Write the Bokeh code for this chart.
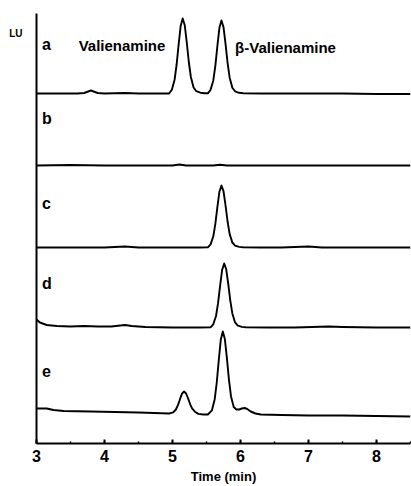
from bokeh.plotting import figure
from bokeh.models import Range1d, SingleIntervalTicker, FixedTicker, Label
from bokeh.embed import file_html
from bokeh.resources import INLINE

# ---- data (fluorescence signal, LU, stacked traces) ----
a_x = [3.0, 3.3, 3.6, 3.7, 3.8, 3.9, 4.0, 4.3, 4.5, 4.8, 4.95,
       4.99, 5.03, 5.06, 5.09, 5.12, 5.15, 5.18, 5.21, 5.24, 5.27, 5.31, 5.35, 5.41, 5.47,
       5.52, 5.56, 5.60, 5.63, 5.66, 5.69, 5.72, 5.75, 5.78, 5.81, 5.84, 5.88, 5.92, 5.98, 6.04,
       6.3, 6.6, 7.0, 7.5, 8.0, 8.5]
a_y = [350, 350, 350, 350.5, 353, 350.5, 350, 350.5, 350, 350, 350,
       353.8, 363.5, 378.5, 398.8, 417.5, 425, 418.3, 401, 381.5, 366.5, 356, 352.3, 350.8, 350.2,
       350.2, 353.7, 363.1, 377.7, 397.5, 415.7, 423, 416.4, 399.6, 380.7, 366.1, 355.8, 352.2, 350.7, 350.2,
       350, 350, 350, 350, 349.5, 349.5]

b_x = [3.0, 3.5, 4.0, 4.5, 5.0, 5.1, 5.2, 5.6, 5.7, 5.8, 6.0, 7.0, 8.0, 8.5]
b_y = [278, 278.5, 278, 278, 278, 279, 278, 278, 278.7, 278, 278, 278, 278, 278]

c_x = [3.0, 3.5, 4.0, 4.3, 4.5, 5.0, 5.4, 5.52,
       5.56, 5.60, 5.63, 5.66, 5.69, 5.72, 5.75, 5.78, 5.81, 5.84, 5.88, 5.92, 5.98, 6.04,
       6.3, 6.6, 7.0, 7.2, 7.5, 8.0, 8.5]
c_y = [196, 196, 196, 197, 196, 196, 196, 196.2,
       199.1, 207.2, 219.6, 236.3, 251.8, 258, 252.4, 238.2, 222, 209.6, 201, 197.9, 196.6, 196.2,
       196, 196, 197, 196, 196, 196, 196]

d_x = [3.0, 3.05, 3.15, 3.3, 3.5, 3.7, 3.9, 4.1, 4.3, 4.4, 4.6, 5.0, 5.4, 5.56,
       5.60, 5.64, 5.67, 5.70, 5.73, 5.76, 5.79, 5.82, 5.85, 5.88, 5.92, 5.96, 6.02, 6.08,
       6.4, 6.8, 7.3, 7.5, 8.0, 8.5]
d_y = [124, 121, 118.5, 117.5, 117, 117.5, 117, 117, 118.5, 117.5, 116.5, 116, 116, 116.2,
       119.2, 127.5, 140.3, 157.6, 173.6, 180, 174.2, 159.5, 142.9, 130.1, 121.1, 117.9, 116.6, 116.2,
       116, 116, 117, 116.5, 116, 116]

e_x = [3.0, 3.15, 3.25, 3.4, 3.8, 4.5, 4.95,
       5.01, 5.05, 5.08, 5.11, 5.14, 5.17, 5.20, 5.23, 5.26, 5.29, 5.33, 5.38, 5.45, 5.52,
       5.58, 5.62, 5.65, 5.68, 5.71, 5.74, 5.77, 5.80, 5.83, 5.86, 5.90, 5.94, 5.98, 6.02, 6.06, 6.10, 6.15, 6.22,
       6.3, 6.6, 7.0, 7.5, 8.0, 8.5]
e_y = [35, 35, 33.5, 32.5, 32, 31, 30,
       31.1, 34, 38.4, 44.3, 49.8, 52, 50, 45, 39.2, 34.8, 31.8, 29.6, 29, 29,
       33.2, 43.9, 60.5, 83, 103.7, 112, 104.5, 85.4, 63.9, 47.3, 36.5, 34, 34, 35, 35.5, 34.5, 32, 30,
       29, 28.5, 28, 28, 27.5, 27]

trace_labels = ["a", "b", "c", "d", "e"]
trace_label_y = [399, 325, 240, 160, 73]
peak_names = ["Valienamine", "\u03b2-Valienamine"]
peak_name_x = [3.62, 5.92]
peak_name_y = [398, 396]
x_axis_title = "Time (min)"
y_unit = "LU"
y_unit_at = 410

FONT = "Liberation Sans"

p = figure(width=411, height=486, x_range=Range1d(3, 8.5), y_range=Range1d(0, 430),
           output_backend="svg", toolbar_location=None,
           min_border_left=36, min_border_right=1, min_border_top=13, min_border_bottom=43)
p.outline_line_color = None
p.grid.visible = False
p.background_fill_color = "white"

for xs, ys in [(a_x, a_y), (b_x, b_y), (c_x, c_y), (d_x, d_y), (e_x, e_y)]:
    p.line(xs, ys, line_color="black", line_width=1.9, line_join="round")

xa = p.xaxis[0]
xa.ticker = SingleIntervalTicker(interval=1, num_minor_ticks=2)
xa.major_tick_in = 4
xa.major_tick_out = 0
xa.minor_tick_in = 2
xa.minor_tick_out = 0
xa.axis_line_width = 2
xa.major_tick_line_width = 2
xa.minor_tick_line_width = 1.5
xa.major_label_text_font = FONT
xa.major_label_text_font_style = "bold"
xa.major_label_text_font_size = "16px"
xa.major_label_text_color = "black"
xa.major_label_standoff = 6
xa.axis_label = x_axis_title
xa.axis_label_text_font = FONT
xa.axis_label_text_font_style = "bold"
xa.axis_label_text_font_size = "13px"
xa.axis_label_text_color = "black"
xa.axis_label_standoff = 4

ya = p.yaxis[0]
ya.ticker = FixedTicker(ticks=[y_unit_at])
ya.major_label_overrides = {y_unit_at: y_unit}
ya.axis_line_width = 2
ya.major_tick_in = 0
ya.major_tick_out = 0
ya.minor_tick_in = 0
ya.minor_tick_out = 0
ya.major_label_orientation = "horizontal"
ya.major_label_standoff = 14
ya.major_label_text_font = FONT
ya.major_label_text_font_style = "bold"
ya.major_label_text_font_size = "10px"
ya.major_label_text_color = "black"

for t, yy in zip(trace_labels, trace_label_y):
    p.add_layout(Label(x=3.08, y=yy, text=t, text_font=FONT, text_font_style="bold",
                       text_font_size="16px", text_baseline="middle", text_color="black"))

for t, xx, yy in zip(peak_names, peak_name_x, peak_name_y):
    p.add_layout(Label(x=xx, y=yy, text=t, text_font=FONT, text_font_style="bold",
                       text_font_size="15px", text_baseline="middle", text_color="black"))

open("out.html", "w").write(file_html(p, INLINE))
